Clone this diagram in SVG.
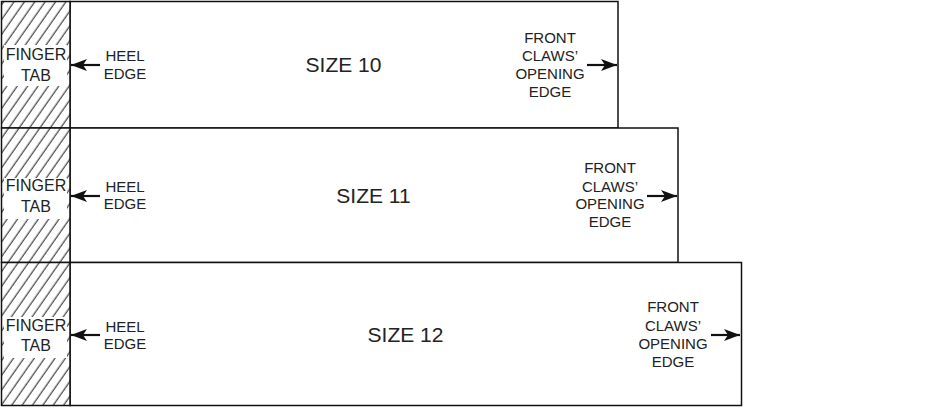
<svg xmlns="http://www.w3.org/2000/svg" width="926" height="410" viewBox="0 0 926 410">
<style>
.box{fill:#fff;stroke:#111;stroke-width:1.5}
.tab{fill:url(#hatch);stroke:#111;stroke-width:1.5}
.lbl{font-family:"Liberation Sans",Arial,sans-serif;font-size:15px;fill:#222;text-anchor:middle}
.fin{font-family:"Liberation Sans",Arial,sans-serif;font-size:16px;fill:#222;text-anchor:middle}
.big{font-family:"Liberation Sans",Arial,sans-serif;font-size:21px;fill:#222;text-anchor:middle}
.arr{stroke:#111;stroke-width:2.2;fill:none;marker-end:url(#ah)}
</style>
<defs>
<pattern id="hatch" patternUnits="userSpaceOnUse" width="8.5" height="10" patternTransform="rotate(35)">
<rect width="8.5" height="10" fill="#fff"/>
<line x1="4" y1="0" x2="4" y2="10" stroke="#1a1a1a" stroke-width="1"/>
</pattern>
<marker id="ah" markerUnits="userSpaceOnUse" markerWidth="18" markerHeight="14" refX="16" refY="7" orient="auto">
<path d="M0,1 L16,7 L0,13 L4,7 z" fill="#111"/>
</marker>
</defs>
<g id="size10">
<rect class="box" x="70" y="1.5" width="548" height="126.5"/>
<text class="big" x="343.5" y="72">SIZE 10</text>
<text class="lbl" x="125" y="61">HEEL</text>
<text class="lbl" x="125" y="79">EDGE</text>
<text class="lbl" x="550" y="43">FRONT</text>
<text class="lbl" x="550" y="61">CLAWS’</text>
<text class="lbl" x="550" y="79">OPENING</text>
<text class="lbl" x="550" y="97">EDGE</text>
</g>
<g id="size11">
<rect class="box" x="70" y="128" width="608" height="134.5"/>
<text class="big" x="373.5" y="203">SIZE 11</text>
<text class="lbl" x="125" y="192">HEEL</text>
<text class="lbl" x="125" y="209">EDGE</text>
<text class="lbl" x="610" y="173">FRONT</text>
<text class="lbl" x="610" y="192">CLAWS’</text>
<text class="lbl" x="610" y="209">OPENING</text>
<text class="lbl" x="610" y="227">EDGE</text>
</g>
<g id="size12">
<rect class="box" x="70" y="262.5" width="671.5" height="143"/>
<text class="big" x="405.5" y="342">SIZE 12</text>
<text class="lbl" x="125" y="332">HEEL</text>
<text class="lbl" x="125" y="349">EDGE</text>
<text class="lbl" x="673" y="312">FRONT</text>
<text class="lbl" x="673" y="331">CLAWS’</text>
<text class="lbl" x="673" y="349">OPENING</text>
<text class="lbl" x="673" y="367">EDGE</text>
</g>
<g id="tab10">
<rect class="tab" x="1.5" y="1.5" width="68.5" height="126.5"/>
<rect x="4" y="45" width="63" height="41" fill="#fff"/>
<text class="fin" x="36" y="60">FINGER</text>
<text class="fin" x="36" y="81">TAB</text>
</g>
<g id="tab11">
<rect class="tab" x="1.5" y="128" width="68.5" height="134.5"/>
<rect x="4" y="178" width="63" height="41" fill="#fff"/>
<text class="fin" x="36" y="191">FINGER</text>
<text class="fin" x="36" y="212">TAB</text>
</g>
<g id="tab12">
<rect class="tab" x="1.5" y="262.5" width="68.5" height="143"/>
<rect x="4" y="317" width="63" height="41" fill="#fff"/>
<text class="fin" x="36" y="331">FINGER</text>
<text class="fin" x="36" y="351">TAB</text>
</g>
<g id="connectors">
<line class="arr" x1="100" y1="65" x2="71" y2="65"/>
<line class="arr" x1="100" y1="196" x2="71" y2="196"/>
<line class="arr" x1="100" y1="335" x2="71" y2="335"/>
<line class="arr" x1="587" y1="65" x2="617" y2="65"/>
<line class="arr" x1="647" y1="196" x2="677" y2="196"/>
<line class="arr" x1="711" y1="335" x2="740" y2="335"/>
</g>
</svg>
